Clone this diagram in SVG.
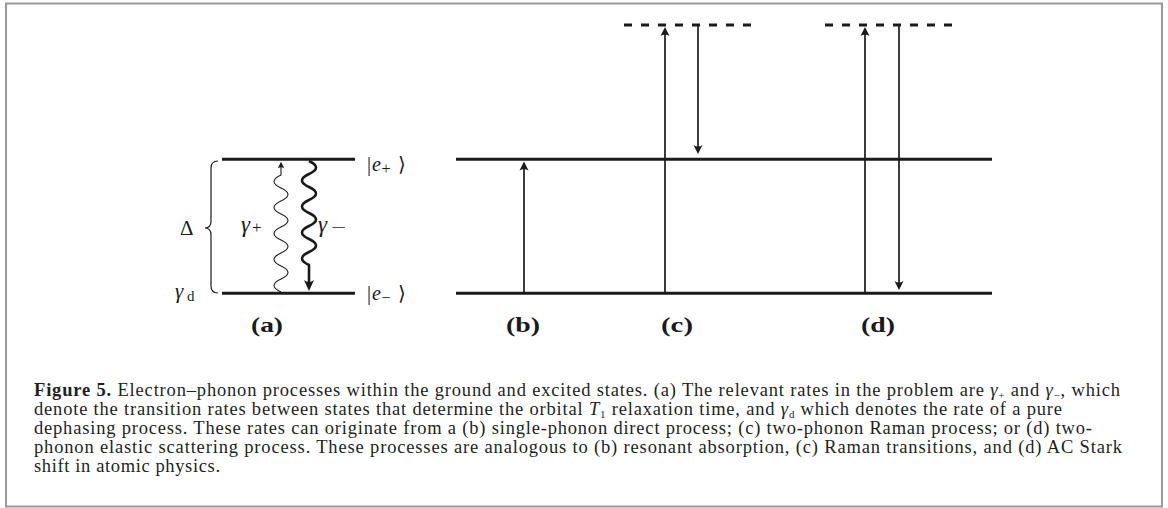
<svg xmlns="http://www.w3.org/2000/svg" width="1168" height="508" viewBox="0 0 1168 508">
<style>
.lvl{stroke:#1a1a1a;stroke-width:3;fill:none}
.dash{stroke:#1a1a1a;stroke-width:3;fill:none;stroke-dasharray:8 9}
.arr{stroke:#1a1a1a;stroke-width:1.7;fill:none;marker-end:url(#ah)}
.math{font-family:"Liberation Serif","DejaVu Serif",serif;fill:#1a1a1a}
.lab{font-family:"Liberation Serif","DejaVu Serif",serif;font-size:21px;font-weight:bold;fill:#1a1a1a}
.cap{font-family:"Liberation Serif","DejaVu Serif",serif;font-size:18.5px;fill:#231f20}
</style>
<defs>
<marker id="ah" viewBox="-10 -5 11 10" refX="-4" refY="0" markerWidth="11" markerHeight="10" markerUnits="userSpaceOnUse" orient="auto">
<path d="M0,0 L-9,-4.5 Q-6,0 -9,4.5 Z" fill="#1a1a1a"/>
</marker>
<marker id="ahs" viewBox="-10 -5 11 10" refX="-3" refY="0" markerWidth="8" markerHeight="8" markerUnits="userSpaceOnUse" orient="auto">
<path d="M0,0 L-9,-4.5 Q-6,0 -9,4.5 Z" fill="#1a1a1a"/>
</marker>
<marker id="ahb" viewBox="-12 -6 13 12" refX="-5" refY="0" markerWidth="13" markerHeight="12" markerUnits="userSpaceOnUse" orient="auto">
<path d="M0,0 L-11,-5 Q-7,0 -11,5 Z" fill="#1a1a1a"/>
</marker>
</defs>
<rect x="0" y="0" width="1168" height="508" fill="#ffffff"/>
<rect id="frame" x="6" y="3.5" width="1156" height="503" fill="none" stroke="#999" stroke-width="2"/>

<g id="panel-a">
  <g id="a-upper"><line class="lvl" x1="222" y1="159.3" x2="355" y2="159.3"/></g>
  <g id="a-lower"><line class="lvl" x1="222" y1="293.3" x2="355" y2="293.3"/></g>
  <g id="a-brace"><path d="M218,161 Q211,161 211,168 L211,221 Q211,228 205,228 Q211,228 211,235 L211,286 Q211,293 218,293" fill="none" stroke="#1a1a1a" stroke-width="1.2"/></g>
  <text class="math" font-size="20"><tspan x="367" y="171">|</tspan><tspan x="372" y="171" font-style="italic">e</tspan><tspan x="381.5" y="174" font-size="16">+</tspan><tspan x="398" y="171">⟩</tspan></text>
  <text class="math" font-size="20"><tspan x="367" y="300">|</tspan><tspan x="372" y="300" font-style="italic">e</tspan><tspan x="381.5" y="303" font-size="16">−</tspan><tspan x="398" y="300">⟩</tspan></text>
  <text class="math" x="180" y="235" font-size="21">Δ</text>
  <text class="math" font-size="23"><tspan x="241" y="232" font-style="italic">γ</tspan><tspan x="252" y="233" font-size="17">+</tspan></text>
  <text class="math" font-size="23"><tspan x="318" y="232" font-style="italic">γ</tspan></text>
  <text class="math" x="331" y="233" font-size="17" textLength="15" lengthAdjust="spacingAndGlyphs">−</text>
  <text class="math" font-size="21"><tspan x="175" y="298" font-style="italic">γ</tspan><tspan x="187" y="300.5" font-size="15">d</tspan></text>
  <text class="lab" x="251" y="332" textLength="32" lengthAdjust="spacingAndGlyphs">(a)</text>
</g>

<g id="panel-bcd">
  <g id="upper-level"><line class="lvl" x1="456" y1="159.3" x2="992" y2="159.3"/></g>
  <g id="lower-level"><line class="lvl" x1="456" y1="293.3" x2="992" y2="293.3"/></g>
  <g id="virtual-c"><line class="dash" x1="624" y1="25" x2="757" y2="25"/></g>
  <g id="virtual-d"><line class="dash" x1="825" y1="25" x2="958" y2="25"/></g>
  <text class="lab" x="506" y="332" textLength="34" lengthAdjust="spacingAndGlyphs">(b)</text>
  <text class="lab" x="661" y="332" textLength="32" lengthAdjust="spacingAndGlyphs">(c)</text>
  <text class="lab" x="861" y="332" textLength="34" lengthAdjust="spacingAndGlyphs">(d)</text>
</g>

<g id="connectors">
  <path d="M281,292 q -14 -6.5 0 -13 t 0 -13 t 0 -13 t 0 -13 t 0 -13 t 0 -13 t 0 -13 t 0 -13 t 0 -13 L281,164" fill="none" stroke="#1a1a1a" stroke-width="1.1" marker-end="url(#ahs)"/>
  <path d="M309,161 q 14 6.5 0 13 t 0 13 t 0 13 t 0 13 t 0 13 t 0 13 t 0 13 t 0 13 L309,286" fill="none" stroke="#1a1a1a" stroke-width="2.6" stroke-linejoin="round" marker-end="url(#ahb)"/>
  <line class="arr" x1="524" y1="293" x2="524" y2="165.5"/>
  <line class="arr" x1="665" y1="293" x2="665" y2="31"/>
  <line class="arr" x1="698" y1="25" x2="698" y2="150"/>
  <line class="arr" x1="865" y1="293" x2="865" y2="31"/>
  <line class="arr" x1="899" y1="25" x2="899" y2="286"/>
</g>

<g id="caption">
  <text class="cap" x="34" y="396" textLength="1086" lengthAdjust="spacing"><tspan font-weight="bold">Figure 5.</tspan> Electron–phonon processes within the ground and excited states. (a) The relevant rates in the problem are <tspan font-style="italic">γ</tspan><tspan font-size="11" dy="3">+</tspan><tspan dy="-3"> and </tspan><tspan font-style="italic">γ</tspan><tspan font-size="11" dy="3">−</tspan><tspan dy="-3">, which</tspan></text>
  <text class="cap" x="34" y="415" textLength="1028" lengthAdjust="spacing">denote the transition rates between states that determine the orbital <tspan font-style="italic">T</tspan><tspan font-size="11" dy="3">1</tspan><tspan dy="-3"> relaxation time, and </tspan><tspan font-style="italic">γ</tspan><tspan font-size="11" dy="3">d</tspan><tspan dy="-3"> which denotes the rate of a pure</tspan></text>
  <text class="cap" x="34" y="434" textLength="1058" lengthAdjust="spacing">dephasing process. These rates can originate from a (b) single-phonon direct process; (c) two-phonon Raman process; or (d) two-</text>
  <text class="cap" x="34" y="453" textLength="1088" lengthAdjust="spacing">phonon elastic scattering process. These processes are analogous to (b) resonant absorption, (c) Raman transitions, and (d) AC Stark</text>
  <text class="cap" x="34" y="472" textLength="186" lengthAdjust="spacing">shift in atomic physics.</text>
</g>
</svg>
